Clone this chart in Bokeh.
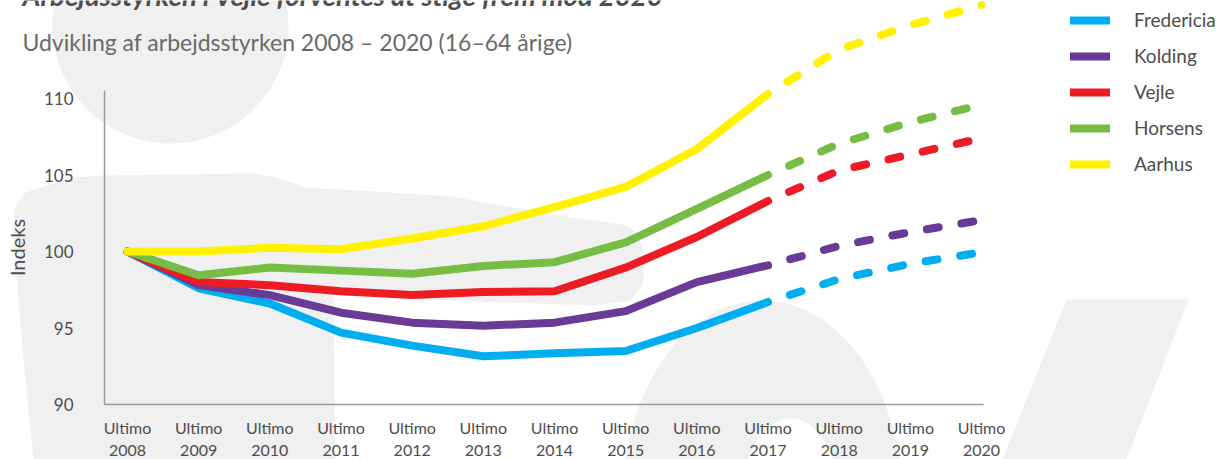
import numpy as np
from bokeh.plotting import figure
from bokeh.models import (Range1d, FixedTicker, Legend, LegendItem, Label,
                          PolyAnnotation, GlobalInlineStyleSheet)
from bokeh.embed import file_html
from bokeh.resources import INLINE

# ---------------- data ----------------
years_hist = [2008, 2009, 2010, 2011, 2012, 2013, 2014, 2015, 2016, 2017]
years_proj = [2017, 2018, 2019, 2020]
tick_years = [2008, 2009, 2010, 2011, 2012, 2013, 2014, 2015, 2016, 2017, 2018, 2019, 2020]
tick_labels = ["Ultimo\n2008", "Ultimo\n2009", "Ultimo\n2010", "Ultimo\n2011", "Ultimo\n2012",
               "Ultimo\n2013", "Ultimo\n2014", "Ultimo\n2015", "Ultimo\n2016", "Ultimo\n2017",
               "Ultimo\n2018", "Ultimo\n2019", "Ultimo\n2020"]
y_ticks = [90, 95, 100, 105, 110]

fredericia_hist = [100, 97.6, 96.6, 94.7, 93.85, 93.15, 93.35, 93.5, 95.0, 96.7]
fredericia_proj = [96.7, 98.2, 99.2, 99.95]
kolding_hist = [100, 97.8, 97.15, 96.0, 95.35, 95.15, 95.35, 96.1, 98.0, 99.1]
kolding_proj = [99.1, 100.37, 101.27, 102.05]
vejle_hist = [100, 98.0, 97.8, 97.4, 97.15, 97.35, 97.4, 98.95, 100.95, 103.3]
vejle_proj = [103.3, 105.3, 106.35, 107.4]
horsens_hist = [100, 98.45, 98.95, 98.75, 98.55, 99.05, 99.3, 100.6, 102.78, 105.0]
horsens_proj = [105.0, 107.05, 108.45, 109.6]
aarhus_hist = [100, 100.0, 100.25, 100.15, 100.85, 101.65, 102.9, 104.22, 106.7, 110.3]
aarhus_proj = [110.3, 113.2, 114.8, 116.1]

series = [
    ("Fredericia", "#00AEEF", fredericia_hist, fredericia_proj),
    ("Kolding", "#6B3A96", kolding_hist, kolding_proj),
    ("Vejle", "#ED1C24", vejle_hist, vejle_proj),
    ("Horsens", "#76BE43", horsens_hist, horsens_proj),
    ("Aarhus", "#FFF100", aarhus_hist, aarhus_proj),
]

FONT = "Lato"
TEXT = "#4d4d4d"

# ---------------- figure (frame = whole canvas, axes fixed inside) ----------------
W, H = 1224, 459
X0, PX_PER_YEAR = 127.0, 71.17      # pixel of 2008, pixels per year
Y100, PX_PER_UNIT = 251.0, 15.3     # pixel of index 100, pixels per index point

x_start = 2008 - X0 / PX_PER_YEAR
x_end = 2008 + (W - X0) / PX_PER_YEAR
y_end = 100 + Y100 / PX_PER_UNIT
y_start = 100 - (H - Y100) / PX_PER_UNIT
x_axis_at = 2008 - (X0 - 104) / PX_PER_YEAR

p = figure(width=W, height=H, output_backend="svg", toolbar_location=None, title=None,
           x_range=Range1d(x_start, x_end), y_range=Range1d(y_start, y_end),
           min_border_left=0, min_border_right=0, min_border_top=0, min_border_bottom=0)
p.outline_line_color = None
p.grid.visible = False
p.background_fill_color = "white"
p.border_fill_color = "white"
p.stylesheets = [GlobalInlineStyleSheet(css="html, body { margin: 0; padding: 0; overflow: hidden; }")]

# ---------------- background decoration (canvas pixels) ----------------
def to_screen(pts):
    xs = [x for x, _ in pts]
    ys = [H - y for _, y in pts]
    return xs, ys

def ellipse_pts(cx, cy, rx, ry, n=90):
    t = np.linspace(0, 2 * np.pi, n, endpoint=False)
    return list(zip(cx + rx * np.cos(t), cy + ry * np.sin(t)))

DECOR = "#f0f0f0"
shapes = [
    ellipse_pts(170, 25, 118, 118),
    [(33, 459), (25, 380), (18, 300), (12, 230), (15, 205), (25, 192), (50, 184), (75, 177),
     (100, 175), (253, 173), (275, 177), (295, 183), (305, 187), (317, 188), (360, 190),
     (450, 196), (560, 215), (627, 225), (638, 235), (645, 260), (642, 285), (630, 300),
     (593, 305), (450, 300), (333, 293), (335, 459)],
    ellipse_pts(762, 500, 140, 200),
    [(1066, 299), (1188, 299), (1126, 459), (1002, 459)],
]
for pts in shapes:
    xs, ys = to_screen(pts)
    p.add_layout(PolyAnnotation(xs=xs, ys=ys, xs_units="screen", ys_units="screen",
                                fill_color=DECOR, fill_alpha=1.0, line_alpha=0, level="underlay"))
xs, ys = to_screen(ellipse_pts(790, 505, 50, 87))
p.add_layout(PolyAnnotation(xs=xs, ys=ys, xs_units="screen", ys_units="screen",
                            fill_color="white", fill_alpha=1.0, line_alpha=0, level="underlay"))

# ---------------- lines ----------------
LW = 8
items = []
for name, color, hist, proj in series:
    r = p.line(years_hist, hist, line_color=color, line_width=LW, line_cap="round", line_join="round")
    p.line(years_proj, proj, line_color=color, line_width=LW, line_cap="round", line_join="round",
           line_dash="12 23", line_dash_offset=12)
    items.append(LegendItem(label=name, renderers=[r]))

# ---------------- axes ----------------
xa = p.xaxis[0]
xa.fixed_location = 90
xa.ticker = FixedTicker(ticks=tick_years)
xa.major_label_overrides = {y: lab for y, lab in zip(tick_years, tick_labels)}
xa.bounds = (x_axis_at, 2020.03)
xa.major_tick_line_color = None
xa.minor_tick_line_color = None
xa.axis_line_color = "#9a9a9a"
xa.axis_line_width = 1.5
xa.major_label_standoff = 7
xa.major_label_text_font = FONT
xa.major_label_text_font_size = "16px"
xa.major_label_text_color = TEXT

ya = p.yaxis[0]
ya.fixed_location = x_axis_at
ya.ticker = FixedTicker(ticks=y_ticks)
ya.bounds = (90, 110.5)
ya.major_tick_line_color = None
ya.minor_tick_line_color = None
ya.axis_line_color = "#9a9a9a"
ya.axis_line_width = 1.5
ya.major_label_standoff = 25
ya.major_label_text_font = FONT
ya.major_label_text_font_size = "17px"
ya.major_label_text_color = TEXT
ya.axis_label = "Indeks"
ya.axis_label_text_font = FONT
ya.axis_label_text_font_size = "20px"
ya.axis_label_text_font_style = "normal"
ya.axis_label_text_color = TEXT
ya.axis_label_standoff = 12

# ---------------- legend ----------------
legend = Legend(items=items, location=(1070, H - 181.5), orientation="vertical",
                glyph_width=40, glyph_height=36, label_height=36, spacing=0,
                padding=0, margin=0, label_standoff=24,
                label_text_font=FONT, label_text_font_size="19px", label_text_color=TEXT,
                border_line_alpha=0, background_fill_alpha=0)
p.add_layout(legend)

# ---------------- titles ----------------
p.add_layout(Label(x=22, y=H + 5, x_units="screen", y_units="screen",
                   text="Arbejdsstyrken i Vejle forventes at stige frem mod 2020",
                   text_font=FONT, text_font_style="bold italic", text_font_size="27.5px",
                   text_color=TEXT, text_baseline="alphabetic"))
p.add_layout(Label(x=22, y=H - 41, x_units="screen", y_units="screen",
                   text="Udvikling af arbejdsstyrken 2008 – 2020 (16–64 årige)",
                   text_font=FONT, text_font_size="23px",
                   text_color="#6a6a6a", text_baseline="alphabetic"))

open("out.html", "w").write(file_html(p, INLINE))
